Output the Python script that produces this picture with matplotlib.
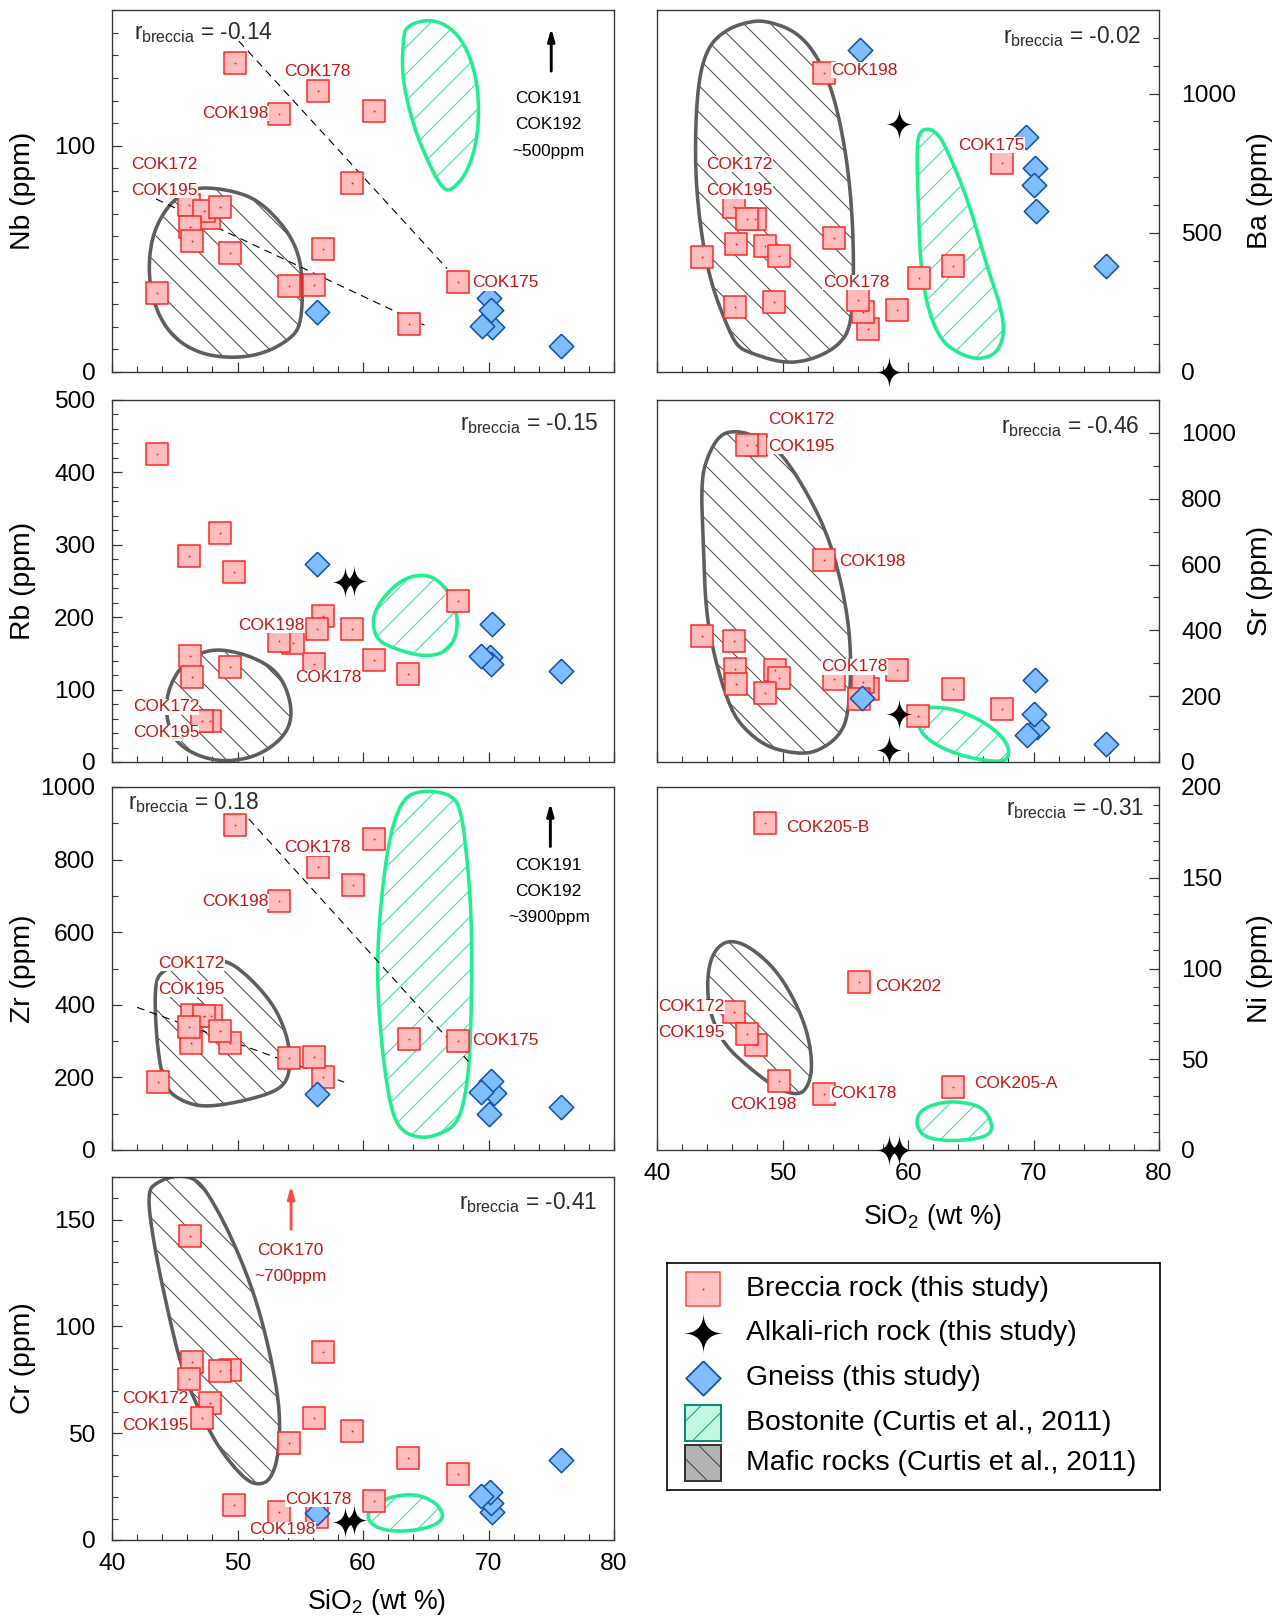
import numpy as np
import matplotlib
matplotlib.use('Agg')
import matplotlib.pyplot as plt
from matplotlib.patches import Polygon, Rectangle
from matplotlib.ticker import MultipleLocator

# ---------------- DATA ----------------
# Nb
nb_br_si = [47.7, 49.8, 56.4, 53.3, 60.9, 59.1, 46.1, 47.3, 48.6, 46.2, 46.4, 49.4, 56.8, 54.1, 56.1, 43.6, 63.7, 67.6]
nb_br = [68, 136.7, 124, 114, 115.4, 83.4, 74, 71, 73, 64, 58, 52.6, 54.5, 38, 38.3, 34.7, 21.4, 39.8]
nb_gn_si = [70.0, 70.3, 69.5, 70.2, 56.3, 75.8]
nb_gn = [32.5, 20.0, 20.5, 27.6, 26.3, 11.6]
nb_maf_x = [46.9, 49.6, 51.7, 53.8, 54.9, 55.2, 55.1, 54.5, 52.2, 49.6, 46.9, 44.8, 43.5, 42.9, 43.1, 44.0, 45.3]
nb_maf_y = [81.9, 80.2, 75.8, 64, 52.3, 39.1, 22.9, 15.6, 8.2, 6, 8.2, 15.6, 27.3, 42, 58.1, 69.9, 78]
nb_bos_x = [63.4, 65.3, 67.1, 68.4, 69.2, 69.2, 68.4, 67.1, 66.3, 65.0, 63.8, 63.1, 63.2]
nb_bos_y = [152.9, 156.2, 152.1, 141.9, 125.7, 105.1, 89, 80.2, 80.9, 94.9, 112.5, 131.6, 146.3]
nb_trend_x = [[50.1, 66.7], [43.5, 64.9]]
nb_trend_y = [[146.3, 45.7], [76.5, 20.7]]
nb_lbl_txt = ['COK178', 'COK198', 'COK172', 'COK195', 'COK175']
nb_lbl_x = [53.7, 52.5, 41.5, 41.5, 68.7]
nb_lbl_y = [133.0, 114.2, 91.9, 80.2, 39.4]
nb_lbl_ha = ['left', 'right', 'left', 'left', 'left']

# Ba
ba_br_si = [47.8, 53.3, 67.5, 46.1, 47.2, 46.3, 48.6, 49.7, 43.6, 54.1, 63.6, 60.9, 59.1, 56.8, 56.4, 56.0, 46.2, 49.3]
ba_br = [551, 1072, 752, 592, 551, 458, 452, 417, 412, 482, 380, 336, 221, 154, 216, 257, 233, 251]
ba_al_si = [59.3, 58.5]
ba_al = [890, 0]
ba_gn_si = [56.2, 69.4, 70.1, 70.0, 70.2, 75.8]
ba_gn = [1155, 844, 731, 673, 579, 380]
ba_maf_x = [48.8, 50.9, 52.5, 53.9, 54.9, 55.5, 55.7, 55.5, 54.4, 52.3, 50.1, 47.5, 46.4, 45.6, 44.3, 43.5, 43.0, 43.2, 44.0, 45.6, 47.5]
ba_maf_y = [1260, 1227, 1155, 1024, 832, 617, 378, 163, 91, 43, 31, 67, 91, 163, 318, 498, 737, 1024, 1167, 1233, 1260]
ba_bos_x = [61.6, 62.2, 62.9, 64.8, 66.3, 67.4, 67.7, 67.1, 65.6, 64.0, 62.6, 61.6, 61.0, 60.8, 60.7, 61.0]
ba_bos_y = [874, 862, 821, 617, 378, 234, 139, 67, 43, 67, 115, 222, 378, 617, 821, 866]
ba_lbl_txt = ['COK198', 'COK175', 'COK172', 'COK195', 'COK178']
ba_lbl_x = [53.9, 64.0, 43.9, 43.9, 53.2]
ba_lbl_y = [1084, 815, 746, 651, 321]
ba_lbl_ha = ['left', 'left', 'left', 'left', 'left']

# Rb
rb_br_si = [56.8, 54.4, 47.8, 43.6, 48.6, 46.1, 49.7, 56.3, 59.1, 53.3, 67.6, 56.1, 60.9, 63.6, 46.2, 46.4, 49.4, 47.2]
rb_br = [202, 164, 57, 426, 316, 284, 263, 184, 184, 167, 223, 136, 141, 121, 147, 118, 131, 57]
rb_al_si = [58.6, 59.3]
rb_al = [249, 250]
rb_gn_si = [56.3, 70.3, 70.1, 70.2, 69.4, 75.8]
rb_gn = [273, 190, 145, 136, 146, 126]
rb_maf_x = [48.6, 51.3, 53.4, 54.4, 54.0, 51.8, 49.2, 47.0, 45.2, 44.4, 44.3, 45.2, 46.8]
rb_maf_y = [156.7, 145.2, 122.1, 76, 39.2, 9.2, 0, 6.9, 25.3, 53, 89.9, 126.7, 149.8]
rb_bos_x = [64.6, 65.9, 67.2, 67.6, 67.2, 66.2, 64.6, 62.5, 61.1, 60.7, 61.4, 63.0]
rb_bos_y = [259.4, 253.5, 225.8, 191.2, 163.6, 148.8, 146.1, 156.7, 168.2, 195.9, 223.5, 251.2]
rb_lbl_txt = ['COK198', 'COK178', 'COK172', 'COK195']
rb_lbl_x = [55.33, 54.56, 41.65, 41.65]
rb_lbl_y = [188.9, 116.1, 76, 40.1]
rb_lbl_ha = ['right', 'left', 'left', 'left']

# Sr
sr_br_si = [47.9, 49.4, 56.8, 47.2, 53.3, 43.6, 46.1, 46.2, 46.3, 49.7, 48.6, 54.1, 56.4, 56.1, 59.1, 60.8, 63.6, 67.5]
sr_br = [962, 279, 223, 963, 615, 382, 368, 283, 236, 256, 210, 253, 243, 190, 279, 140, 223, 162]
sr_al_si = [59.3, 58.5]
sr_al = [145, 36]
sr_gn_si = [56.3, 70.1, 70.3, 70.0, 69.5, 75.8]
sr_gn = [193, 250, 106, 147, 83, 56]
sr_maf_x = [46.0, 47.4, 49.5, 51.4, 53.5, 54.8, 55.5, 55.3, 54.5, 52.7, 51.1, 48.7, 46.8, 45.8, 44.7, 43.9, 43.7, 43.5, 44.1, 45.0]
sr_maf_y = [1006, 998, 957, 856, 704, 532, 350, 147, 76, 30, 25, 46, 106, 167, 299, 451, 654, 856, 937, 993]
sr_bos_x = [61.8, 63.6, 65.4, 67.0, 68.1, 67.9, 65.9, 63.8, 62.0, 60.9, 60.8, 61.2]
sr_bos_y = [167, 162, 135, 96, 46, 0, 5, 25, 56, 96, 137, 159]
sr_lbl_txt = ['COK172', 'COK195', 'COK198', 'COK178']
sr_lbl_x = [48.83, 48.83, 54.54, 53.08]
sr_lbl_y = [1040, 960, 610, 289]
sr_lbl_ha = ['left', 'left', 'left', 'left']

# Zr
zr_br_si = [46.4, 47.9, 46.3, 49.4, 49.8, 60.9, 56.4, 59.2, 53.3, 47.3, 46.1, 48.6, 54.1, 56.8, 56.1, 43.7, 63.7, 67.6]
zr_br = [372, 370, 294, 296, 896, 858, 779, 729, 687, 368, 340, 329, 253, 202, 256, 187, 305, 299]
zr_gn_si = [56.3, 70.4, 70.2, 69.4, 70.0, 75.8]
zr_gn = [154, 158, 191, 161, 98, 118]
zr_maf_x = [46.9, 49.1, 50.9, 52.8, 53.8, 54.2, 54.1, 53.3, 50.9, 47.7, 45.9, 44.3, 43.8, 43.5, 43.4, 43.9]
zr_maf_y = [528, 524, 478, 404, 331, 266, 202, 165, 138, 118, 129, 165, 239, 331, 450, 496]
zr_bos_x = [64.5, 66.8, 67.8, 68.4, 68.7, 68.6, 68.3, 67.6, 66.0, 64.5, 62.9, 62.1, 61.4, 61.1, 61.4, 62.1, 63.1]
zr_bos_y = [991, 983, 947, 772, 588, 312, 175, 73, 41, 32, 55, 129, 312, 496, 680, 864, 965]
zr_trend_x = [[50.9, 68.4], [42.0, 58.5]]
zr_trend_y = [[912, 244], [393, 187]]
zr_lbl_txt = ['COK178', 'COK198', 'COK172', 'COK195', 'COK175']
zr_lbl_x = [53.71, 52.47, 43.71, 43.71, 68.7]
zr_lbl_y = [832, 685, 515, 443, 303]
zr_lbl_ha = ['left', 'right', 'left', 'left', 'left']

# Ni
ni_br_si = [48.6, 56.1, 46.1, 47.9, 47.2, 49.7, 53.3, 63.6]
ni_br = [180, 92.6, 75.9, 57.9, 63.8, 38, 30.9, 34.9]
ni_al_si = [58.5, 59.3]
ni_al = [0, 0]
ni_maf_x = [45.8, 47.4, 49.5, 51.1, 52.1, 52.4, 51.9, 51.1, 49.5, 47.4, 45.5, 44.5, 44.0, 44.1, 44.7]
ni_maf_y = [115.8, 112.1, 99.3, 80.9, 62.5, 44.1, 33.1, 30.3, 34, 45, 57, 69.9, 84.6, 101.1, 111.2]
ni_bos_x = [64.1, 65.9, 66.7, 66.6, 64.9, 62.8, 61.2, 60.6, 61.0, 62.5]
ni_bos_y = [26.7, 23.9, 15.6, 8.3, 5.5, 5.1, 7.4, 14.7, 22.1, 26.1]
ni_lbl_txt = ['COK205-B', 'COK202', 'COK172', 'COK195', 'COK198', 'COK178', 'COK205-A']
ni_lbl_x = [50.29, 57.4, 45.38, 45.38, 48.51, 53.82, 65.28]
ni_lbl_y = [177.9, 90.1, 79.0, 64.9, 25.2, 30.9, 36.8]
ni_lbl_ha = ['left', 'left', 'right', 'right', 'center', 'left', 'left']

# Cr
cr_br_si = [49.4, 47.8, 56.3, 46.2, 56.8, 46.4, 48.6, 46.1, 47.2, 56.1, 59.1, 54.1, 63.6, 67.6, 60.9, 49.7, 53.3]
cr_br = [79.6, 64.3, 11, 142.3, 88.1, 83.5, 79.3, 75.2, 57.2, 57.2, 50.9, 45.6, 38.2, 31, 18.3, 16.3, 13.3]
cr_al_si = [58.6, 59.3]
cr_al = [8.6, 9.4]
cr_gn_si = [70.3, 70.2, 70.1, 69.4, 56.3, 75.8]
cr_gn = [13.3, 17.2, 22.7, 20.4, 12.5, 37.3]
cr_maf_x = [45.2, 46.8, 48.1, 49.7, 51.3, 52.4, 53.2, 53.4, 53.2, 52.6, 51.8, 50.8, 49.2, 47.8, 45.7, 44.4, 43.3, 42.8, 43.6]
cr_maf_y = [171, 169, 158, 139.5, 116, 92.5, 69, 53.3, 37.6, 28.2, 25.9, 27.4, 37.6, 50.2, 76.8, 108.2, 139.5, 163, 167.7]
cr_bos_x = [62.2, 64.3, 65.9, 66.5, 65.6, 63.5, 61.4, 60.3, 60.6]
cr_bos_y = [20.4, 21.6, 17.2, 10.7, 6.3, 3.9, 4.7, 9.4, 15.7]
cr_lbl_txt = ['COK172', 'COK195', 'COK178', 'COK198']
cr_lbl_x = [46.11, 46.11, 53.82, 53.55]
cr_lbl_y = [66.1, 53.6, 19.1, 4.7]
cr_lbl_ha = ['right', 'right', 'left', 'center']

r_values = {'Nb': '-0.14', 'Ba': '-0.02', 'Rb': '-0.15', 'Sr': '-0.46', 'Zr': '0.18', 'Ni': '-0.31', 'Cr': '-0.41'}
legend_labels = ['Breccia rock (this study)', 'Alkali-rich rock (this study)', 'Gneiss (this study)',
                 'Bostonite (Curtis et al., 2011)', 'Mafic rocks (Curtis et al., 2011)']

# ---------------- STYLE ----------------
plt.rcParams['font.family'] = ['Liberation Sans', 'DejaVu Sans']
plt.rcParams['mathtext.fontset'] = 'custom'
plt.rcParams['mathtext.rm'] = 'Liberation Sans'
plt.rcParams['mathtext.it'] = 'Liberation Sans:italic'
plt.rcParams['hatch.linewidth'] = 0.8

DPI = 80
W, H = 1285, 1618
fig = plt.figure(figsize=(W / DPI, H / DPI), dpi=DPI)


def fpos(l, t, r, b):
    return [l / W, 1 - b / H, (r - l) / W, (b - t) / H]


BR_FC, BR_EC = '#ffbcbc', '#ff2a2a'
GN_FC, GN_EC = '#80bdfc', '#1552a6'
LBL_C = '#c81414'
MAF_EC, MAF_HC = '#5e5e5e', '#333333'
BOS_EC, BOS_HC = '#22ee90', '#22dd88'


def star_marker(yscale=1.0):
    t = np.linspace(0, 2 * np.pi, 121)
    c, s = np.cos(t), np.sin(t)
    x = np.sign(c) * np.abs(c) ** 4
    y = np.sign(s) * np.abs(s) ** 4 * yscale
    return list(zip(x, y))


STAR_P = star_marker(1.22)
STAR_L = star_marker(1.0)
DIAM = [(0, 1), (1, 0), (0, -1), (-1, 0), (0, 1)]


def smooth_closed(xs, ys, it=4):
    p = np.column_stack([xs, ys]).astype(float)
    for _ in range(it):
        q = np.roll(p, -1, axis=0)
        a = 0.75 * p + 0.25 * q
        b = 0.25 * p + 0.75 * q
        n = np.empty((2 * len(p), 2))
        n[0::2] = a
        n[1::2] = b
        p = n
    return p


def draw_field(ax, xs, ys, kind):
    pts = smooth_closed(xs, ys)
    if kind == 'maf':
        hc, ec, h = MAF_HC, MAF_EC, '\\'
    else:
        hc, ec, h = BOS_HC, BOS_EC, '/'
    ax.add_patch(Polygon(pts, closed=True, facecolor='none', edgecolor=hc, lw=0, hatch=h, zorder=1))
    ax.add_patch(Polygon(pts, closed=True, facecolor='none', edgecolor=ec, lw=3.2, zorder=2))


def setup_axes(ax, ylim, major, minor, side, ylabel, show_x, xlab_pos=(0.5, -0.14)):
    ax.set_xlim(40, 80)
    ax.set_ylim(*ylim)
    ax.xaxis.set_major_locator(MultipleLocator(10))
    ax.xaxis.set_minor_locator(MultipleLocator(2))
    ax.yaxis.set_major_locator(MultipleLocator(major))
    ax.yaxis.set_minor_locator(MultipleLocator(minor))
    ax.tick_params(axis='both', which='both', direction='in', top=False, colors='#333333',
                   labelcolor='black', labelsize=22)
    ax.tick_params(which='major', length=9, width=1.1)
    ax.tick_params(which='minor', length=5, width=1.0)
    ax.tick_params(axis='x', pad=12, labelbottom=show_x)
    if side == 'left':
        ax.tick_params(axis='y', left=True, right=False, labelleft=True, labelright=False, pad=15)
        ax.set_ylabel(ylabel, fontsize=25.5)
        ax.yaxis.set_label_coords(-0.151, 0.5)
    else:
        ax.tick_params(axis='y', which='both', left=False, right=True, labelleft=False, labelright=True, pad=20)
        ax.yaxis.set_label_position('right')
        ax.set_ylabel(ylabel, fontsize=25.5)
        ax.yaxis.set_label_coords(1.175, 0.5)
    for s in ax.spines.values():
        s.set_color('#333333')
        s.set_linewidth(1.2)
    if show_x:
        ax.set_xlabel('SiO$_2$ (wt %)', fontsize=24)
        ax.xaxis.set_label_coords(*xlab_pos)


def draw_points(ax, br_x, br_y, al_x=None, al_y=None, gn_x=None, gn_y=None):
    ax.scatter(br_x, br_y, marker='s', s=19.5 ** 2, facecolor=BR_FC, edgecolor=BR_EC, linewidth=1.4,
               zorder=3, clip_on=False)
    ax.scatter(br_x, br_y, marker='o', s=2.5, color='#ff1010', linewidth=0, zorder=3.1, clip_on=False)
    if al_x is not None:
        ax.scatter(al_x, al_y, marker=STAR_P, s=31 ** 2, color='black', linewidth=0, zorder=4, clip_on=False)
    if gn_x is not None:
        ax.scatter(gn_x, gn_y, marker=DIAM, s=22 ** 2, facecolor=GN_FC, edgecolor=GN_EC, linewidth=1.4,
                   zorder=5, clip_on=False)


def draw_labels(ax, txt, xs, ys, has):
    for t, x, y, ha in zip(txt, xs, ys, has):
        ax.text(x, y, t, color=LBL_C, fontsize=15.5, ha=ha, va='center', zorder=6,
                bbox=dict(boxstyle='square,pad=0.02', fc='white', ec='none'))


def draw_r(ax, key, fx, fy, ha):
    ax.text(fx, fy, r'r$_{\mathrm{breccia}}$ = ' + r_values[key], transform=ax.transAxes,
            fontsize=20.5, color='#2a2a2a', ha=ha, va='center', zorder=7)


def draw_arrow(ax, x, y0, y1, color):
    ax.annotate('', xy=(x, y1), xytext=(x, y0),
                arrowprops=dict(arrowstyle='-|>,head_width=0.25,head_length=0.9', color=color, lw=2.6,
                                shrinkA=0, shrinkB=0), zorder=6)


LX = (112, 614)
RX = (657, 1159)
ROWS = [(10, 372), (400, 762), (787, 1150), (1177, 1540)]

# ---- Nb ----
ax = fig.add_axes(fpos(LX[0], ROWS[0][0], LX[1], ROWS[0][1]))
setup_axes(ax, (0, 160), 100, 10, 'left', 'Nb (ppm)', False)
draw_field(ax, nb_maf_x, nb_maf_y, 'maf')
draw_field(ax, nb_bos_x, nb_bos_y, 'bos')
for tx, ty in zip(nb_trend_x, nb_trend_y):
    ax.plot(tx, ty, color='black', lw=1.0, dashes=(7, 5), zorder=2.5)
draw_points(ax, nb_br_si, nb_br, gn_x=nb_gn_si, gn_y=nb_gn)
draw_labels(ax, nb_lbl_txt, nb_lbl_x, nb_lbl_y, nb_lbl_ha)
draw_r(ax, 'Nb', 0.044, 0.939, 'left')
draw_arrow(ax, 75.0, 133, 152, 'black')
ax.text(74.8, 109.3, 'COK191\nCOK192\n~500ppm', ha='center', va='center', fontsize=15.5,
        color='black', linespacing=1.95, zorder=6)

# ---- Ba ----
ax = fig.add_axes(fpos(RX[0], ROWS[0][0], RX[1], ROWS[0][1]))
setup_axes(ax, (0, 1300), 500, 100, 'right', 'Ba (ppm)', False)
draw_field(ax, ba_maf_x, ba_maf_y, 'maf')
draw_field(ax, ba_bos_x, ba_bos_y, 'bos')
draw_points(ax, ba_br_si, ba_br, ba_al_si, ba_al, ba_gn_si, ba_gn)
draw_labels(ax, ba_lbl_txt, ba_lbl_x, ba_lbl_y, ba_lbl_ha)
draw_r(ax, 'Ba', 0.9655, 0.926, 'right')

# ---- Rb ----
ax = fig.add_axes(fpos(LX[0], ROWS[1][0], LX[1], ROWS[1][1]))
setup_axes(ax, (0, 500), 100, 20, 'left', 'Rb (ppm)', False)
draw_field(ax, rb_maf_x, rb_maf_y, 'maf')
draw_field(ax, rb_bos_x, rb_bos_y, 'bos')
draw_points(ax, rb_br_si, rb_br, rb_al_si, rb_al, rb_gn_si, rb_gn)
draw_labels(ax, rb_lbl_txt, rb_lbl_x, rb_lbl_y, rb_lbl_ha)
draw_r(ax, 'Rb', 0.970, 0.936, 'right')

# ---- Sr ----
ax = fig.add_axes(fpos(RX[0], ROWS[1][0], RX[1], ROWS[1][1]))
setup_axes(ax, (0, 1100), 200, 100, 'right', 'Sr (ppm)', False)
draw_field(ax, sr_maf_x, sr_maf_y, 'maf')
draw_field(ax, sr_bos_x, sr_bos_y, 'bos')
draw_points(ax, sr_br_si, sr_br, sr_al_si, sr_al, sr_gn_si, sr_gn)
draw_labels(ax, sr_lbl_txt, sr_lbl_x, sr_lbl_y, sr_lbl_ha)
draw_r(ax, 'Sr', 0.961, 0.926, 'right')

# ---- Zr ----
ax = fig.add_axes(fpos(LX[0], ROWS[2][0], LX[1], ROWS[2][1]))
setup_axes(ax, (0, 1000), 200, 100, 'left', 'Zr (ppm)', False)
draw_field(ax, zr_maf_x, zr_maf_y, 'maf')
draw_field(ax, zr_bos_x, zr_bos_y, 'bos')
for tx, ty in zip(zr_trend_x, zr_trend_y):
    ax.plot(tx, ty, color='black', lw=1.0, dashes=(7, 5), zorder=2.5)
draw_points(ax, zr_br_si, zr_br, gn_x=zr_gn_si, gn_y=zr_gn)
draw_labels(ax, zr_lbl_txt, zr_lbl_x, zr_lbl_y, zr_lbl_ha)
draw_r(ax, 'Zr', 0.031, 0.956, 'left')
draw_arrow(ax, 74.93, 836, 956, 'black')
ax.text(74.8, 712, 'COK191\nCOK192\n~3900ppm', ha='center', va='center', fontsize=15.5,
        color='black', linespacing=1.95, zorder=6)

# ---- Ni ----
ax = fig.add_axes(fpos(RX[0], ROWS[2][0], RX[1], ROWS[2][1]))
setup_axes(ax, (0, 200), 50, 10, 'right', 'Ni (ppm)', True, xlab_pos=(0.548, -0.142))
draw_field(ax, ni_maf_x, ni_maf_y, 'maf')
draw_field(ax, ni_bos_x, ni_bos_y, 'bos')
draw_points(ax, ni_br_si, ni_br, ni_al_si, ni_al)
draw_labels(ax, ni_lbl_txt, ni_lbl_x, ni_lbl_y, ni_lbl_ha)
draw_r(ax, 'Ni', 0.970, 0.942, 'right')

# ---- Cr ----
ax = fig.add_axes(fpos(LX[0], ROWS[3][0], LX[1], ROWS[3][1]))
setup_axes(ax, (0, 170), 50, 10, 'left', 'Cr (ppm)', True, xlab_pos=(0.527, -0.13))
draw_field(ax, cr_maf_x, cr_maf_y, 'maf')
draw_field(ax, cr_bos_x, cr_bos_y, 'bos')
draw_points(ax, cr_br_si, cr_br, cr_al_si, cr_al, cr_gn_si, cr_gn)
draw_labels(ax, cr_lbl_txt, cr_lbl_x, cr_lbl_y, cr_lbl_ha)
draw_r(ax, 'Cr', 0.967, 0.930, 'right')
draw_arrow(ax, 54.27, 145.5, 166, '#ff4a4a')
ax.text(54.22, 129.6, 'COK170\n~700ppm', ha='center', va='center', fontsize=15.5,
        color=LBL_C, linespacing=1.95, zorder=6)

# ---- Legend ----
lg = fig.add_axes(fpos(667, 1263, 1160, 1490))
lg.set_xlim(0, 1)
lg.set_ylim(0, 1)
lg.set_xticks([])
lg.set_yticks([])
for s in lg.spines.values():
    s.set_color('black')
    s.set_linewidth(1.5)
rows_y = [0.885, 0.692, 0.494, 0.294, 0.118]
mx = 0.073
lg.scatter([mx], [rows_y[0]], marker='s', s=30 ** 2, facecolor='#ffc2c2', edgecolor='#ff4d4d', linewidth=1.4)
lg.scatter([mx], [rows_y[0]], marker='o', s=3, color='#ff1010', linewidth=0)
lg.scatter([mx], [rows_y[1]], marker=STAR_L, s=38 ** 2, color='black', linewidth=0)
lg.scatter([mx], [rows_y[2]], marker=DIAM, s=31 ** 2, facecolor=GN_FC, edgecolor=GN_EC, linewidth=1.6)
bw, bh = 36 / 493, 36 / 227
lg.add_patch(Rectangle((mx - bw / 2, rows_y[3] - bh / 2), bw, bh, facecolor='#c2f7e2', edgecolor='#0f8a7a',
                       lw=1.8, hatch='/'))
lg.add_patch(Rectangle((mx - bw / 2, rows_y[4] - bh / 2), bw, bh, facecolor='#b4b4b4', edgecolor='#333333',
                       lw=1.8, hatch='\\'))
for lab, yy in zip(legend_labels, rows_y):
    lg.text(0.161, yy, lab, fontsize=25.5, va='center', ha='left', color='black')

fig.savefig('out.png', dpi=DPI)
